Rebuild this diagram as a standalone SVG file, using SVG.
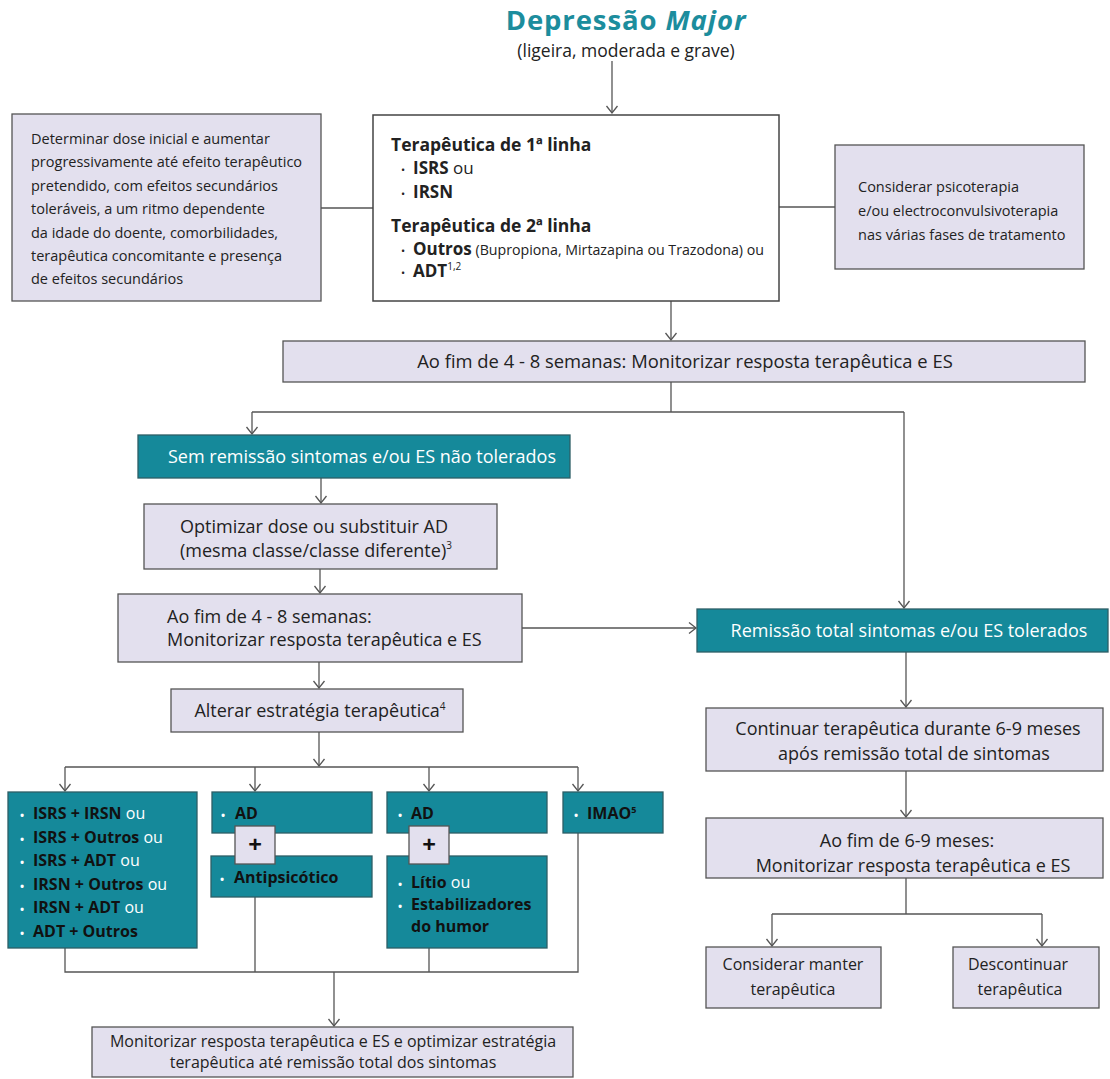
<svg xmlns="http://www.w3.org/2000/svg" width="1110" height="1079" viewBox="0 0 1110 1079">
<defs>
<style>
text{font-family:"Open Sans","Noto Sans","Liberation Sans",sans-serif;fill:#222}
.box{fill:#e3e0ee;stroke:#555;stroke-width:1.3}
.wbox{fill:#fff;stroke:#444;stroke-width:1.5}
.teal{fill:#15899a;stroke:#2d5e66;stroke-width:1.3}
.plus{fill:#e3e0ee;stroke:#555;stroke-width:1.3}
.t18{font-size:18px}
.t16{font-size:16px}
.t14{font-size:14.5px}
.wt{fill:#fff}
.b{font-weight:700}
.bl{font-size:11px}
.tb{font-size:16px;font-weight:700;fill:#111}
.ou{font-weight:400;fill:#fff}
.c{text-anchor:middle}
.ln{fill:none;stroke:#555;stroke-width:1.3}
</style>
<marker id="arr" markerUnits="userSpaceOnUse" markerWidth="16" markerHeight="16" refX="0" refY="0" orient="auto" overflow="visible">
<path d="M-7,-5.5 L0,0 L-7,5.5" fill="none" stroke="#555" stroke-width="1.3"/>
</marker>
</defs>

<g id="title">
<text x="626" y="30" class="c b" style="font-size:27.5px;letter-spacing:0.9px;fill:#1c8d9d">Depressão <tspan font-style="italic">Major</tspan></text>
<text x="626" y="57" class="c" style="font-size:17.5px">(ligeira, moderada e grave)</text>
</g>

<g id="connectors">
<path class="ln" d="M612,61 V113" marker-end="url(#arr)"/>
<path class="ln" d="M321,208 H373"/>
<path class="ln" d="M779,207 H835"/>
<path class="ln" d="M671,301 V340" marker-end="url(#arr)"/>
<path class="ln" d="M671,382 V412 M252,412 H904"/>
<path class="ln" d="M252,412 V434" marker-end="url(#arr)"/>
<path class="ln" d="M904,412 V608" marker-end="url(#arr)"/>
<path class="ln" d="M321,478 V503" marker-end="url(#arr)"/>
<path class="ln" d="M320,569 V593" marker-end="url(#arr)"/>
<path class="ln" d="M522,628 H696" marker-end="url(#arr)"/>
<path class="ln" d="M319,662 V688" marker-end="url(#arr)"/>
<path class="ln" d="M319,732 V766" marker-end="url(#arr)"/>
<path class="ln" d="M65,767 H578"/>
<path class="ln" d="M65,767 V791" marker-end="url(#arr)"/>
<path class="ln" d="M255,767 V791" marker-end="url(#arr)"/>
<path class="ln" d="M429,767 V791" marker-end="url(#arr)"/>
<path class="ln" d="M578,767 V791" marker-end="url(#arr)"/>
<path class="ln" d="M65,948 V972 H578 V833 M255,897 V972 M429,948 V972"/>
<path class="ln" d="M334,972 V1026" marker-end="url(#arr)"/>
<path class="ln" d="M906,652 V707" marker-end="url(#arr)"/>
<path class="ln" d="M906,771 V817" marker-end="url(#arr)"/>
<path class="ln" d="M906,878 V914 M772,914 H1042"/>
<path class="ln" d="M772,914 V946" marker-end="url(#arr)"/>
<path class="ln" d="M1042,914 V946" marker-end="url(#arr)"/>
</g>

<g id="node-dose">
<rect class="box" x="12" y="114" width="309" height="187"/>
<text class="t14" x="31" y="144">Determinar dose inicial e aumentar</text>
<text class="t14" x="31" y="167.4">progressivamente até efeito terapêutico</text>
<text class="t14" x="31" y="190.8">pretendido, com efeitos secundários</text>
<text class="t14" x="31" y="214.2">toleráveis, a um ritmo dependente</text>
<text class="t14" x="31" y="237.6">da idade do doente, comorbilidades,</text>
<text class="t14" x="31" y="261">terapêutica concomitante e presença</text>
<text class="t14" x="31" y="284.4">de efeitos secundários</text>
</g>

<g id="node-linhas">
<rect class="wbox" x="373" y="115" width="406" height="186"/>
<text x="391" y="151" class="b" style="font-size:17.5px">Terapêutica de 1ª linha</text>
<text x="401" y="174" style="font-size:17px"><tspan class="bl">•</tspan><tspan x="413" class="b">ISRS</tspan> ou</text>
<text x="401" y="198" style="font-size:17px"><tspan class="bl">•</tspan><tspan x="413" class="b">IRSN</tspan></text>
<text x="391" y="232" class="b" style="font-size:17.5px">Terapêutica de 2ª linha</text>
<text x="401" y="255" style="font-size:17px"><tspan class="bl">•</tspan><tspan x="413" class="b">Outros</tspan><tspan style="font-size:14.2px"> (Bupropiona, Mirtazapina ou Trazodona) ou</tspan></text>
<text x="401" y="277" style="font-size:17px"><tspan class="bl">•</tspan><tspan x="413" class="b">ADT</tspan><tspan style="font-size:10px" dy="-7">1,2</tspan></text>
</g>

<g id="node-psico">
<rect class="box" x="835" y="145" width="249" height="124"/>
<text class="t14" x="858" y="192">Considerar psicoterapia</text>
<text class="t14" x="858" y="216">e/ou electroconvulsivoterapia</text>
<text class="t14" x="858" y="240">nas várias fases de tratamento</text>
</g>

<g id="node-monit1">
<rect class="box" x="283" y="341" width="802" height="41"/>
<text class="c" style="font-size:18.4px" x="685" y="368">Ao fim de 4 - 8 semanas: Monitorizar resposta terapêutica e ES</text>
</g>

<g id="node-sem-remissao">
<rect class="teal" x="138" y="435" width="432" height="43"/>
<text class="t18 wt" x="168" y="463">Sem remissão sintomas e/ou ES não tolerados</text>
</g>

<g id="node-optimizar">
<rect class="box" x="144" y="504" width="353" height="65"/>
<text class="t18" x="180" y="533">Optimizar dose ou substituir AD</text>
<text class="t18" x="180" y="557">(mesma classe/classe diferente)<tspan style="font-size:10px" dy="-8">3</tspan></text>
</g>

<g id="node-monit2">
<rect class="box" x="118" y="594" width="404" height="68"/>
<text class="t18" x="167" y="623">Ao fim de 4 - 8 semanas:</text>
<text class="t18" x="167" y="646">Monitorizar resposta terapêutica e ES</text>
</g>

<g id="node-remissao">
<rect class="teal" x="697" y="609" width="411" height="43"/>
<text class="t18 wt c" x="909" y="637">Remissão total sintomas e/ou ES tolerados</text>
</g>

<g id="node-alterar">
<rect class="box" x="171" y="689" width="292" height="43"/>
<text class="t18 c" x="320" y="717">Alterar estratégia terapêutica<tspan style="font-size:10px" dy="-7">4</tspan></text>
</g>

<g id="node-combinacoes">
<rect class="teal" x="8" y="792" width="189" height="156"/>
<text x="20" y="819" class="tb"><tspan class="bl wt">•</tspan><tspan x="33">ISRS + IRSN</tspan><tspan class="ou"> ou</tspan></text>
<text x="20" y="842.6" class="tb"><tspan class="bl wt">•</tspan><tspan x="33">ISRS + Outros</tspan><tspan class="ou"> ou</tspan></text>
<text x="20" y="866.2" class="tb"><tspan class="bl wt">•</tspan><tspan x="33">ISRS + ADT</tspan><tspan class="ou"> ou</tspan></text>
<text x="20" y="889.8" class="tb"><tspan class="bl wt">•</tspan><tspan x="33">IRSN + Outros</tspan><tspan class="ou"> ou</tspan></text>
<text x="20" y="913.4" class="tb"><tspan class="bl wt">•</tspan><tspan x="33">IRSN + ADT</tspan><tspan class="ou"> ou</tspan></text>
<text x="20" y="937" class="tb"><tspan class="bl wt">•</tspan><tspan x="33">ADT + Outros</tspan></text>
</g>

<g id="node-ad-antipsicotico">
<rect class="teal" x="212" y="792" width="160" height="41"/>
<text x="221" y="819" class="tb"><tspan class="bl wt">•</tspan><tspan x="235">AD</tspan></text>
<rect class="teal" x="211" y="856" width="161" height="41"/>
<text x="220" y="883" class="tb"><tspan class="bl wt">•</tspan><tspan x="234">Antipsicótico</tspan></text>
<rect class="plus" x="235" y="826" width="40" height="38"/>
<text x="255" y="853" class="c b" style="font-size:24px;fill:#111">+</text>
</g>

<g id="node-ad-litio">
<rect class="teal" x="387" y="792" width="160" height="41"/>
<text x="398" y="819" class="tb"><tspan class="bl wt">•</tspan><tspan x="411">AD</tspan></text>
<rect class="teal" x="387" y="856" width="160" height="92"/>
<text x="398" y="888" class="tb"><tspan class="bl wt">•</tspan><tspan x="411">Lítio</tspan><tspan class="ou"> ou</tspan></text>
<text x="398" y="910" class="tb"><tspan class="bl wt">•</tspan><tspan x="411">Estabilizadores</tspan></text>
<text x="411" y="932" class="tb">do humor</text>
<rect class="plus" x="409" y="826" width="40" height="38"/>
<text x="429" y="853" class="c b" style="font-size:24px;fill:#111">+</text>
</g>

<g id="node-imao">
<rect class="teal" x="563" y="792" width="100" height="41"/>
<text x="574" y="819" class="tb"><tspan class="bl wt">•</tspan><tspan x="587">IMAO</tspan><tspan style="font-size:9px" dy="-6">5</tspan></text>
</g>

<g id="node-monit-final">
<rect class="box" x="92" y="1027" width="481" height="50"/>
<text class="t16 c" x="333" y="1047">Monitorizar resposta terapêutica e ES e optimizar estratégia</text>
<text class="t16 c" x="333" y="1068">terapêutica até remissão total dos sintomas</text>
</g>

<g id="node-continuar">
<rect class="box" x="706" y="708" width="397" height="63"/>
<text class="t18 c" x="908" y="735">Continuar terapêutica durante 6-9 meses</text>
<text class="t18 c" x="914" y="760">após remissão total de sintomas</text>
</g>

<g id="node-monit3">
<rect class="box" x="706" y="818" width="397" height="60"/>
<text class="t18 c" x="907" y="847">Ao fim de 6-9 meses:</text>
<text class="t18 c" x="913" y="872">Monitorizar resposta terapêutica e ES</text>
</g>

<g id="node-manter">
<rect class="box" x="706" y="947" width="175" height="61"/>
<text class="t16 c" x="793" y="970">Considerar manter</text>
<text class="t16 c" x="793" y="995">terapêutica</text>
</g>

<g id="node-descontinuar">
<rect class="box" x="953" y="947" width="146" height="61"/>
<text class="t16 c" x="1018" y="970">Descontinuar</text>
<text class="t16 c" x="1020" y="995">terapêutica</text>
</g>
</svg>
